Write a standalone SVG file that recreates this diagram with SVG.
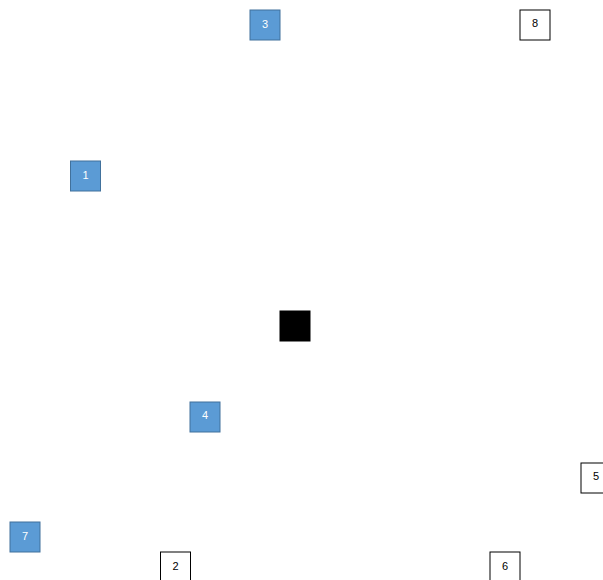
<svg xmlns="http://www.w3.org/2000/svg" width="603" height="580" viewBox="0 0 603 580">
<style>
.b{fill:#5B9BD5;stroke:#41719C;stroke-width:1}
.w{fill:#FFFFFF;stroke:#000000;stroke-width:1}
.k{fill:#000000;stroke:#000000;stroke-width:1}
.tb{fill:#FFFFFF;font-family:"Liberation Sans",Arial,sans-serif;font-size:11px;text-anchor:middle;dominant-baseline:central}
.tw{fill:#000000;font-family:"Liberation Sans",Arial,sans-serif;font-size:11px;text-anchor:middle;dominant-baseline:central}
</style>
<rect width="603" height="580" fill="#FFFFFF"/>
<g id="connectors"></g>
<g id="n3"><rect class="b" x="250" y="10" width="30" height="30"/><text class="tb" x="265" y="24">3</text></g>
<g id="n8"><rect class="w" x="520" y="10" width="30" height="30"/><text class="tw" x="535" y="23">8</text></g>
<g id="n1"><rect class="b" x="70.5" y="161" width="30" height="30"/><text class="tb" x="85.5" y="175">1</text></g>
<g id="n0"><rect class="k" x="280" y="311" width="30" height="30"/></g>
<g id="n4"><rect class="b" x="190" y="402" width="30" height="30"/><text class="tb" x="205" y="415">4</text></g>
<g id="n5"><rect class="w" x="581" y="463" width="30" height="30"/><text class="tw" x="596" y="476">5</text></g>
<g id="n7"><rect class="b" x="10" y="522" width="30" height="30"/><text class="tb" x="25" y="536">7</text></g>
<g id="n2"><rect class="w" x="160.5" y="552" width="30" height="30"/><text class="tw" x="175.5" y="566">2</text></g>
<g id="n6"><rect class="w" x="490" y="552" width="30" height="30"/><text class="tw" x="505" y="566">6</text></g>
</svg>
